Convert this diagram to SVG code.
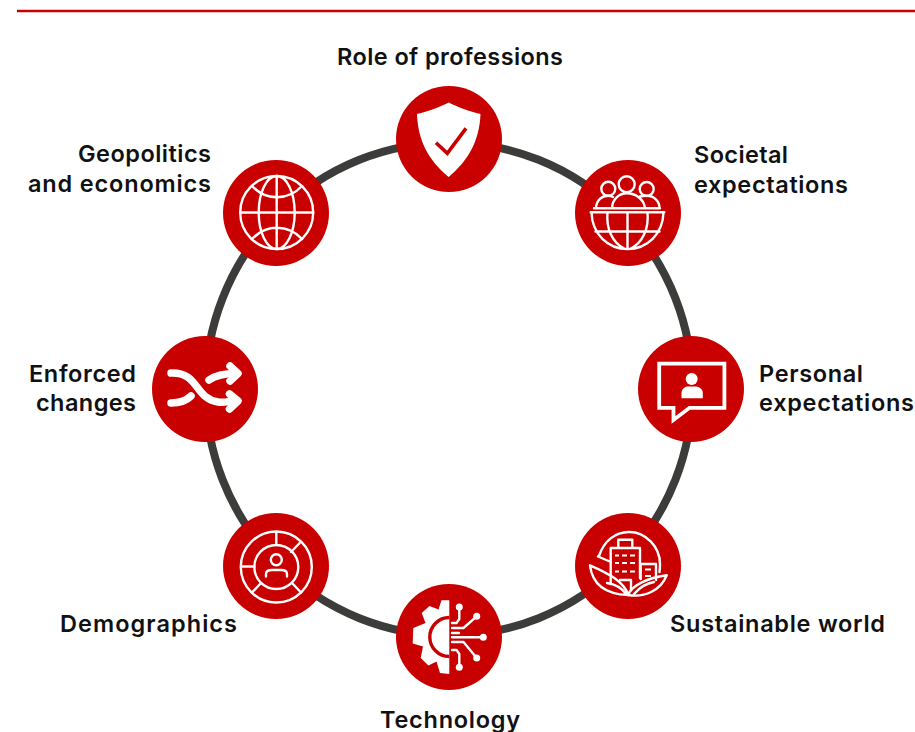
<svg xmlns="http://www.w3.org/2000/svg" width="915" height="732" viewBox="0 0 915 732">
<style>
.disc{fill:#c80000}
.l{fill:none;stroke:#fff;stroke-width:2.400;stroke-linecap:round;stroke-linejoin:round}
.t{font-family:"Inter","Liberation Sans",sans-serif;font-weight:600;font-size:23.500px;fill:#111}
.e{text-anchor:end}
.m{text-anchor:middle}
</style>
<rect width="915" height="732" fill="#fff"/>
<g id="connectors">
<line x1="17" y1="11" x2="915" y2="11" stroke="#c80000" stroke-width="2.400"/>
<ellipse cx="449" cy="389" rx="243.500" ry="246.500" fill="none" stroke="#3c3c3a" stroke-width="8"/>
</g>
<g id="role-of-professions">
<circle class="disc" cx="449" cy="139" r="53"/>
<path d="M448.700 102.500C440 107 428 111.500 417 114C418 140 428 160 448.700 177C469 160 479.500 140 480.500 114C469.500 111.500 457.500 107 448.700 102.500Z" fill="#fff"/>
<path d="M436 142.700L447.300 153.300L466 128.300" fill="none" stroke="#c80000" stroke-width="3.600"/>
<text class="t m" x="450" y="65" textLength="226">Role of professions</text>
</g>
<g id="societal-expectations">
<circle class="disc" cx="628" cy="213" r="53"/>
<g class="l">
<circle cx="608.300" cy="188.800" r="7"/><circle cx="626.700" cy="184.300" r="8"/><circle cx="646.700" cy="189" r="7"/>
<path d="M594 208.300H660M596 208C596.500 200 602 195.800 608 195.800C609 195.800 611 196 613 197M612 208C612.500 199 619 193.300 627 193.300C635 193.300 644 199 645 208M640 196.500C642 195.800 645 195.800 647 195.800C654 195.800 659.500 201 659.500 208"/>
<path d="M590.700 212.300H664.300M591.500 212.300C592 234 608 249 627.500 249C647 249 663 234 663.500 212.300M627.500 212.300V249M607.500 212.300C606 228 612 243 625 249M647.500 212.300C649 228 643 243 630 249M595.500 231.500H659.500"/>
</g>
<text class="t" x="694" y="163" textLength="94">Societal</text>
<text class="t" x="694" y="193" textLength="154">expectations</text>
</g>
<g id="personal-expectations">
<circle class="disc" cx="691" cy="389" r="53"/>
<path d="M659.200 363.600H724.400V407.800H689.500L673.500 420V407.800H659.200Z" fill="none" stroke="#fff" stroke-width="3.800"/>
<circle cx="691.700" cy="379" r="6" fill="#fff"/>
<path d="M681.500 398.300V393C681.500 389 685 386.500 688 386.500H695.500C699 386.500 702.800 389 702.800 393V398.300Z" fill="#fff"/>
<text class="t" x="759" y="382" textLength="104">Personal</text>
<text class="t" x="759" y="411" textLength="155">expectations</text>
</g>
<g id="sustainable-world">
<circle class="disc" cx="628" cy="566" r="53"/>
<g class="l">
<path d="M599 556C604 541 615 532 629 532C646 532 660 547 660 564C660 567 660 569 659.500 572"/>
<path d="M598 556.500L611 562M610.700 584V548H640V578M618.300 548V539.700H632.300V548M640.700 579V564H656V580M620 580H631V590"/>
<path d="M590 565.300C592 582 603 594 628.300 595C624 582 610 574 590 565.300ZM607 583C615 584 622 588 627 595"/>
<path d="M666.700 575.300C661 590 645 598 628 595C632 585 648 578 666.700 575.300ZM634 594C640 587 648 583 654 582"/>
</g>
<path d="M615 555.500h4M622 555.500h5M630 555.500h5M615 563h4M622 563h5M630 563h5M615 571.500h4M622 571.500h5M630 571.500h5M645 569.500h6M645 576h6" stroke="#fff" stroke-width="2" fill="none"/>
<text class="t" x="670" y="632" textLength="215">Sustainable world</text>
</g>
<g id="technology">
<circle class="disc" cx="449" cy="637" r="53"/>
<path d="M449.300 600.300H441.500L438.500 609.500L429.500 606L421.700 613L425.500 623L413.300 628L412.700 643.500L423 646.500L420.700 658L428.500 665.500L436.500 661.500L440 673L449.300 674Z" fill="#fff"/>
<path d="M449.300 617.500A19.500 19.500 0 0 0 449.300 656.500" fill="none" stroke="#c80000" stroke-width="3.400"/>
<g class="l">
<path d="M452 623H456.500L459.300 619V607M452 628H463.500L476.700 616.300M452 637.300H483.300M452 633H459M452 642H463.500L476.700 658M452 650H456.500L459.300 654V667.300"/>
</g>
<g fill="#fff"><circle cx="459.300" cy="607" r="3.500"/><circle cx="476.700" cy="616.300" r="3.500"/><circle cx="483.300" cy="637.300" r="3.500"/><circle cx="476.700" cy="658" r="3.500"/><circle cx="459.300" cy="667.300" r="3.500"/></g>
<text class="t m" x="450" y="728" textLength="140">Technology</text>
</g>
<g id="demographics">
<circle class="disc" cx="276" cy="566" r="53"/>
<g class="l">
<circle cx="276.300" cy="567" r="35.500"/><circle cx="276.300" cy="567" r="22"/><circle cx="276.300" cy="559.700" r="5.500"/>
<path d="M266 576.500V574C266 571 269 570 272 570H281C284 570 287 571 287 574V576.500"/>
<path d="M276.300 533V545M299.700 543L291 552M292 583L301 592.500M261 583L252 592.500M241.500 566.500H254.500"/>
</g>
<text class="t" x="60" y="632" textLength="177">Demographics</text>
</g>
<g id="enforced-changes">
<circle class="disc" cx="205" cy="389" r="53"/>
<g fill="none" stroke="#fff" stroke-width="7.500" stroke-linecap="round" stroke-linejoin="round">
<path d="M171 373C199 372 194 398 218 402C224 403 230 401 236 401"/>
<path d="M229.500 394L238 401L229.500 409"/>
<path d="M171 403C180 403 186 401 191 396"/>
<path d="M209 380C216 375 226 373.500 236 373.500"/>
<path d="M230 366L238 373.500L230 381"/>
</g>
<text class="t e" x="136" y="382" textLength="107">Enforced</text>
<text class="t e" x="136" y="411" textLength="100">changes</text>
</g>
<g id="geopolitics-and-economics">
<circle class="disc" cx="276" cy="213" r="53"/>
<g class="l">
<circle cx="276.700" cy="212.500" r="36.500"/>
<ellipse cx="276.700" cy="212.500" rx="18" ry="36.500"/>
<path d="M276.700 176V249M240.200 212.500H313.200M252 186C266 201 288 201 302 186M252 239C266 224 288 224 302 239"/>
</g>
<text class="t e" x="211" y="162" textLength="133">Geopolitics</text>
<text class="t e" x="211" y="192" textLength="183">and economics</text>
</g>
</svg>
